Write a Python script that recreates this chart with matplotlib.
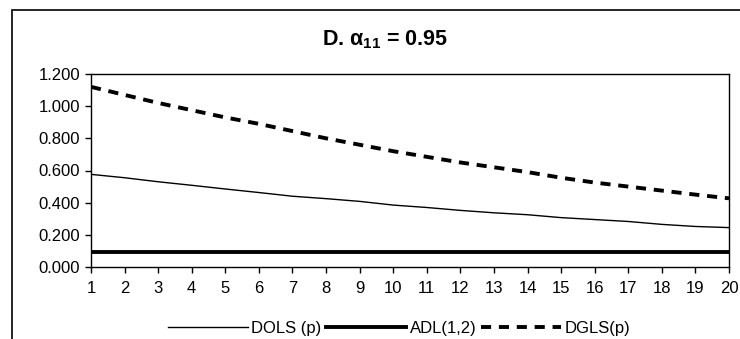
import matplotlib.pyplot as plt
from matplotlib.patches import Rectangle

# datos
p = list(range(1, 21))
dols = [0.576, 0.555, 0.530, 0.508, 0.485, 0.463, 0.440, 0.425, 0.408, 0.385,
        0.370, 0.352, 0.337, 0.325, 0.307, 0.295, 0.283, 0.265, 0.252, 0.245]
adl = [0.095] * 20
dgls = [1.120, 1.070, 1.020, 0.975, 0.930, 0.890, 0.845, 0.800, 0.760, 0.720,
        0.685, 0.650, 0.620, 0.590, 0.555, 0.525, 0.500, 0.475, 0.450, 0.427]
yticks = [0.0, 0.2, 0.4, 0.6, 0.8, 1.0, 1.2]

plt.rcParams['font.family'] = ['Liberation Sans', 'DejaVu Sans']
plt.rcParams['mathtext.fontset'] = 'custom'
plt.rcParams['mathtext.rm'] = 'Liberation Sans'
plt.rcParams['mathtext.it'] = 'Liberation Sans:bold'
plt.rcParams['mathtext.bf'] = 'Liberation Sans:bold'

fig = plt.figure(figsize=(7.4, 3.39), dpi=100)
ax = fig.add_axes([91/740, 1 - 267/339, (729-91)/740, (267-74)/339])

# marco exterior
fig.add_artist(Rectangle((12/740, -0.1), 1.2, 1.1 - 10/339, transform=fig.transFigure,
                         fill=False, edgecolor='black', linewidth=1.2))

ax.plot(p, dols, color='black', linewidth=1.0, label='DOLS (p)')
ax.plot(p, adl, color='black', linewidth=2.8, label='ADL(1,2)')
ax.plot(p, dgls, color='black', linewidth=2.8, linestyle=(0, (2.6, 2.0)), label='DGLS(p)')

ax.set_xlim(1, 20)
ax.set_ylim(0, 1.2)
ax.set_xticks(p)
ax.set_yticks(yticks)
ax.set_yticklabels(['%.3f' % v for v in yticks])
ax.tick_params(direction='out', length=4, width=1, labelsize=12, colors='black')
ax.tick_params(axis='x', pad=6)
ax.tick_params(axis='y', pad=4)
for s in ax.spines.values():
    s.set_linewidth(1)

fig.text(385/740, 1 - 40/339, r'D. $\mathbf{\alpha_{11}}$ = 0.95', ha='center', va='center',
         fontsize=15.5, fontweight='bold')

fig.legend(loc='center', bbox_to_anchor=(399/740, 1 - 328/339), ncol=3, frameon=False,
           fontsize=12, handlelength=4.8, columnspacing=0.3, handletextpad=0.2)

fig.savefig('out.png', dpi=100)
